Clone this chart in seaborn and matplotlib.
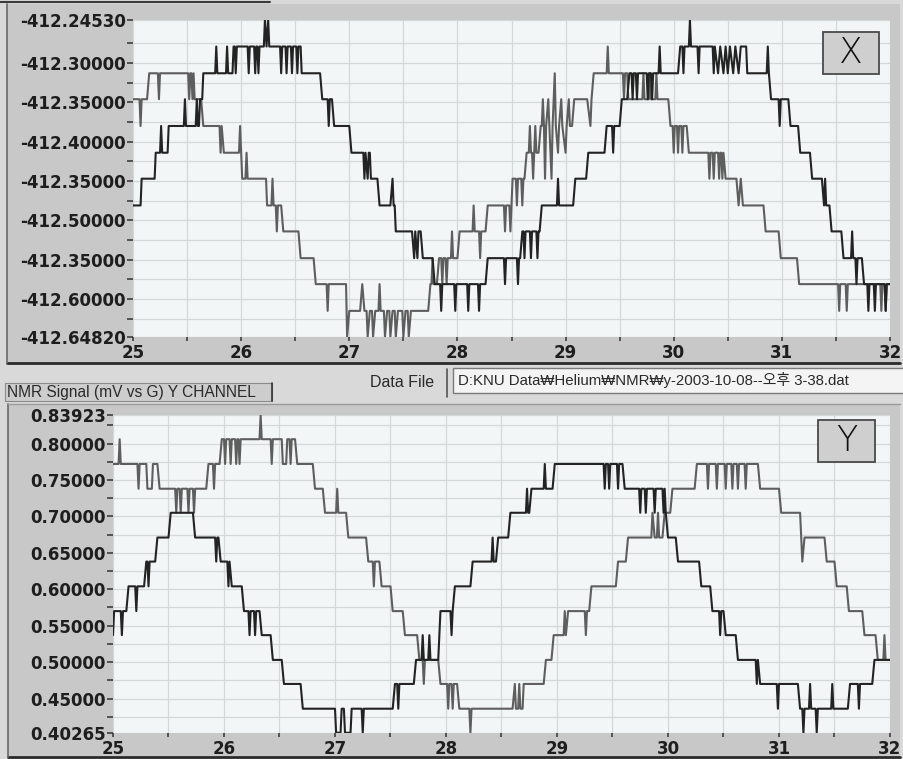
import numpy as np
import pandas as pd
import matplotlib
matplotlib.use("Agg")
import matplotlib.pyplot as plt
import seaborn as sns
from matplotlib.patches import Rectangle
from matplotlib.lines import Line2D
from matplotlib.ticker import FixedLocator

# ---------------- data ----------------
x_ticks = [25, 26, 27, 28, 29, 30, 31, 32]

top_yticks = [-412.2453, -412.30, -412.35, -412.40, -412.45, -412.50, -412.55, -412.60, -412.6482]
top_yticklabels = ['-412.24530', '-412.30000', '-412.35000', '-412.40000', '-412.35000',
                   '-412.50000', '-412.35000', '-412.60000', '-412.64820']
bot_yticks = [0.83923, 0.80, 0.75, 0.70, 0.65, 0.60, 0.55, 0.50, 0.45, 0.40265]
bot_yticklabels = ['0.83923', '0.80000', '0.75000', '0.70000', '0.65000', '0.60000',
                   '0.55000', '0.50000', '0.45000', '0.40265']

top_dark = [
 (25.00,-412.481),(25.07,-412.481),(25.08,-412.447),(25.20,-412.447),(25.21,-412.414),(25.25,-412.414),
 (25.26,-412.380),(25.27,-412.414),(25.32,-412.414),(25.33,-412.380),(25.47,-412.380),(25.48,-412.346),
 (25.49,-412.380),(25.58,-412.380),(25.59,-412.346),(25.60,-412.380),(25.61,-412.380),(25.62,-412.346),
 (25.64,-412.346),(25.65,-412.313),(25.76,-412.313),(25.77,-412.279),(25.78,-412.313),(25.86,-412.313),
 (25.87,-412.279),(25.88,-412.313),(25.92,-412.313),(25.93,-412.279),(25.94,-412.279),(25.95,-412.313),
 (25.96,-412.279),(26.06,-412.279),(26.07,-412.313),(26.08,-412.279),(26.12,-412.279),(26.13,-412.313),
 (26.14,-412.279),(26.15,-412.279),(26.16,-412.313),(26.17,-412.279),(26.21,-412.279),(26.22,-412.245),
 (26.235,-412.279),(26.25,-412.245),(26.26,-412.279),(26.36,-412.279),(26.37,-412.313),(26.38,-412.279),
 (26.41,-412.279),(26.42,-412.313),(26.43,-412.279),(26.46,-412.279),(26.47,-412.313),(26.48,-412.279),
 (26.51,-412.279),(26.52,-412.313),(26.53,-412.279),(26.55,-412.279),(26.56,-412.313),(26.73,-412.313),
 (26.75,-412.346),(26.80,-412.346),(26.81,-412.380),(26.82,-412.346),(26.84,-412.346),(26.86,-412.380),
 (27.00,-412.380),(27.02,-412.414),(27.13,-412.414),(27.14,-412.447),(27.15,-412.414),(27.17,-412.447),
 (27.18,-412.414),(27.19,-412.414),(27.20,-412.447),(27.26,-412.447),(27.28,-412.481),(27.38,-412.481),
 (27.40,-412.447),(27.41,-412.481),(27.42,-412.481),(27.43,-412.514),(27.58,-412.514),(27.60,-412.548),
 (27.61,-412.514),(27.63,-412.548),(27.64,-412.514),(27.66,-412.514),(27.68,-412.548),(27.77,-412.548),
 (27.79,-412.581),(27.84,-412.581),(27.85,-412.615),(27.86,-412.581),(27.97,-412.581),(27.98,-412.615),
 (27.99,-412.581),(28.09,-412.581),(28.10,-412.615),(28.11,-412.581),(28.19,-412.581),(28.20,-412.615),
 (28.21,-412.581),(28.26,-412.581),(28.28,-412.548),(28.43,-412.548),(28.44,-412.581),(28.45,-412.548),
 (28.55,-412.548),(28.56,-412.581),(28.57,-412.548),(28.58,-412.548),(28.60,-412.514),(28.61,-412.514),
 (28.62,-412.548),(28.63,-412.514),(28.67,-412.514),(28.68,-412.548),(28.69,-412.514),(28.73,-412.514),
 (28.74,-412.548),(28.75,-412.514),(28.76,-412.514),(28.78,-412.481),(28.92,-412.481),(28.93,-412.447),
 (28.94,-412.481),(29.07,-412.481),(29.09,-412.447),(29.19,-412.447),(29.21,-412.414),(29.36,-412.414),
 (29.38,-412.380),(29.43,-412.380),(29.44,-412.414),(29.45,-412.380),(29.50,-412.380),(29.52,-412.346),
 (29.57,-412.346),(29.59,-412.313),(29.61,-412.313),(29.62,-412.346),(29.63,-412.313),(29.65,-412.313),
 (29.66,-412.346),(29.67,-412.313),(29.75,-412.313),(29.76,-412.346),(29.77,-412.313),(29.79,-412.313),
 (29.80,-412.346),(29.81,-412.313),(29.86,-412.313),(29.87,-412.279),(29.88,-412.313),(30.04,-412.313),
 (30.06,-412.279),(30.08,-412.279),(30.09,-412.313),(30.10,-412.279),(30.14,-412.279),(30.15,-412.245),
 (30.16,-412.279),(30.22,-412.279),(30.23,-412.313),(30.24,-412.279),(30.36,-412.279),(30.37,-412.313),
 (30.38,-412.279),(30.41,-412.313),(30.43,-412.279),(30.46,-412.313),(30.48,-412.279),(30.50,-412.313),
 (30.52,-412.279),(30.55,-412.313),(30.57,-412.279),(30.60,-412.313),(30.62,-412.279),(30.67,-412.279),
 (30.68,-412.313),(30.86,-412.313),(30.87,-412.279),(30.88,-412.313),(30.90,-412.346),(30.97,-412.346),
 (30.98,-412.380),(30.99,-412.346),(31.06,-412.346),(31.08,-412.380),(31.15,-412.380),(31.17,-412.414),
 (31.26,-412.414),(31.28,-412.447),(31.37,-412.447),(31.39,-412.481),(31.40,-412.447),(31.41,-412.481),
 (31.44,-412.481),(31.46,-412.514),(31.55,-412.514),(31.57,-412.548),(31.64,-412.548),(31.65,-412.514),
 (31.66,-412.548),(31.68,-412.548),(31.69,-412.581),(31.70,-412.548),(31.74,-412.548),(31.76,-412.581),
 (31.79,-412.581),(31.80,-412.615),(31.81,-412.581),(31.85,-412.581),(31.86,-412.615),(31.87,-412.581),
 (31.95,-412.581),(31.96,-412.615),(31.97,-412.581),(32.00,-412.581)]

top_gray = [
 (25.00,-412.346),(25.06,-412.346),(25.07,-412.380),(25.08,-412.346),(25.13,-412.346),(25.15,-412.313),
 (25.23,-412.313),(25.24,-412.346),(25.25,-412.313),(25.51,-412.313),(25.52,-412.346),(25.53,-412.313),
 (25.54,-412.313),(25.55,-412.346),(25.56,-412.313),(25.57,-412.346),(25.63,-412.346),(25.65,-412.380),
 (25.80,-412.380),(25.81,-412.414),(25.82,-412.380),(25.84,-412.414),(25.98,-412.414),(25.99,-412.380),
 (26.00,-412.414),(26.01,-412.447),(26.04,-412.447),(26.05,-412.414),(26.06,-412.447),(26.23,-412.447),
 (26.24,-412.481),(26.28,-412.481),(26.29,-412.447),(26.30,-412.481),(26.32,-412.481),(26.33,-412.514),
 (26.34,-412.481),(26.37,-412.481),(26.39,-412.514),(26.53,-412.514),(26.55,-412.548),(26.67,-412.548),
 (26.69,-412.581),(26.79,-412.581),(26.80,-412.615),(26.81,-412.581),(26.97,-412.581),(26.98,-412.648),
 (27.00,-412.615),(27.10,-412.615),(27.12,-412.581),(27.14,-412.615),(27.16,-412.615),(27.17,-412.648),
 (27.19,-412.615),(27.21,-412.615),(27.22,-412.648),(27.24,-412.615),(27.27,-412.615),(27.28,-412.581),
 (27.29,-412.615),(27.32,-412.615),(27.33,-412.648),(27.35,-412.615),(27.37,-412.615),(27.38,-412.648),
 (27.40,-412.615),(27.42,-412.615),(27.43,-412.648),(27.45,-412.615),(27.49,-412.615),(27.50,-412.648),
 (27.52,-412.615),(27.54,-412.615),(27.55,-412.648),(27.57,-412.615),(27.73,-412.615),(27.75,-412.581),
 (27.76,-412.581),(27.77,-412.548),(27.78,-412.581),(27.81,-412.581),(27.83,-412.548),(27.85,-412.548),
 (27.86,-412.581),(27.87,-412.548),(27.89,-412.548),(27.90,-412.581),(27.91,-412.548),(27.94,-412.548),
 (27.95,-412.514),(27.96,-412.548),(28.00,-412.548),(28.02,-412.514),(28.14,-412.514),(28.15,-412.481),
 (28.16,-412.514),(28.20,-412.514),(28.21,-412.548),(28.22,-412.514),(28.26,-412.514),(28.28,-412.481),
 (28.43,-412.481),(28.44,-412.514),(28.45,-412.481),(28.48,-412.481),(28.49,-412.514),(28.50,-412.481),
 (28.51,-412.447),(28.54,-412.447),(28.55,-412.481),(28.56,-412.447),(28.59,-412.447),(28.60,-412.481),
 (28.61,-412.447),(28.62,-412.447),(28.64,-412.414),(28.66,-412.414),(28.67,-412.380),(28.68,-412.414),
 (28.69,-412.414),(28.70,-412.447),(28.71,-412.414),(28.72,-412.380),(28.73,-412.414),(28.75,-412.414),
 (28.77,-412.380),(28.78,-412.380),(28.79,-412.346),(28.80,-412.380),(28.81,-412.447),(28.82,-412.380),
 (28.84,-412.346),(28.85,-412.380),(28.87,-412.447),(28.88,-412.380),(28.90,-412.313),(28.91,-412.380),
 (28.93,-412.414),(28.94,-412.380),(28.96,-412.346),(28.97,-412.380),(29.00,-412.414),(29.01,-412.380),
 (29.03,-412.346),(29.04,-412.380),(29.06,-412.380),(29.08,-412.346),(29.20,-412.346),(29.23,-412.380),
 (29.24,-412.346),(29.26,-412.313),(29.38,-412.313),(29.39,-412.279),(29.40,-412.313),(29.53,-412.313),
 (29.54,-412.346),(29.55,-412.313),(29.57,-412.313),(29.58,-412.346),(29.60,-412.346),(29.71,-412.346),
 (29.72,-412.313),(29.73,-412.346),(29.77,-412.346),(29.78,-412.313),(29.79,-412.346),(29.83,-412.346),
 (29.84,-412.313),(29.85,-412.346),(29.95,-412.346),(29.97,-412.380),(29.99,-412.380),(30.00,-412.414),
 (30.01,-412.380),(30.03,-412.380),(30.04,-412.414),(30.05,-412.380),(30.07,-412.380),(30.08,-412.414),
 (30.09,-412.380),(30.12,-412.380),(30.14,-412.414),(30.32,-412.414),(30.33,-412.447),(30.34,-412.414),
 (30.36,-412.414),(30.37,-412.447),(30.38,-412.414),(30.41,-412.414),(30.42,-412.447),(30.43,-412.414),
 (30.44,-412.414),(30.45,-412.447),(30.46,-412.414),(30.48,-412.447),(30.58,-412.447),(30.60,-412.481),
 (30.62,-412.447),(30.64,-412.481),(30.83,-412.481),(30.85,-412.514),(30.97,-412.514),(30.99,-412.548),
 (31.14,-412.548),(31.16,-412.581),(31.52,-412.581),(31.53,-412.615),(31.54,-412.581),(31.59,-412.581),
 (31.60,-412.615),(31.61,-412.581),(31.91,-412.581),(31.92,-412.615),(31.93,-412.581),(31.95,-412.581),
 (31.96,-412.615),(31.97,-412.581),(32.00,-412.581)]

bot_dark = [
 (25.00,0.537),(25.01,0.570),(25.07,0.570),(25.08,0.537),(25.09,0.570),(25.12,0.570),(25.14,0.604),
 (25.20,0.604),(25.21,0.570),(25.22,0.604),(25.28,0.604),(25.30,0.638),(25.31,0.638),(25.32,0.604),
 (25.33,0.638),(25.38,0.638),(25.40,0.671),(25.50,0.671),(25.52,0.705),(25.72,0.705),(25.74,0.671),
 (25.92,0.671),(25.93,0.638),(25.94,0.671),(25.95,0.671),(25.97,0.638),(26.03,0.638),(26.04,0.604),
 (26.05,0.638),(26.07,0.604),(26.16,0.604),(26.18,0.570),(26.22,0.570),(26.23,0.537),(26.24,0.570),
 (26.27,0.570),(26.28,0.537),(26.29,0.570),(26.32,0.570),(26.34,0.537),(26.42,0.537),(26.44,0.503),
 (26.52,0.503),(26.54,0.470),(26.69,0.470),(26.71,0.436),(27.00,0.436),(27.01,0.403),(27.05,0.403),
 (27.06,0.436),(27.08,0.436),(27.09,0.403),(27.14,0.403),(27.15,0.436),(27.24,0.436),(27.25,0.403),
 (27.26,0.436),(27.52,0.436),(27.54,0.470),(27.56,0.470),(27.57,0.436),(27.58,0.470),(27.71,0.470),
 (27.73,0.503),(27.78,0.503),(27.79,0.537),(27.80,0.503),(27.84,0.503),(27.85,0.537),(27.86,0.503),
 (27.93,0.503),(27.95,0.570),(28.04,0.570),(28.05,0.537),(28.06,0.570),(28.08,0.604),(28.22,0.604),
 (28.24,0.638),(28.41,0.638),(28.42,0.671),(28.43,0.638),(28.45,0.638),(28.47,0.671),(28.56,0.671),
 (28.58,0.705),(28.72,0.705),(28.73,0.738),(28.74,0.705),(28.75,0.705),(28.77,0.738),(28.88,0.738),
 (28.89,0.772),(28.90,0.738),(28.96,0.738),(28.98,0.772),(29.42,0.772),(29.43,0.738),(29.44,0.772),
 (29.46,0.772),(29.47,0.738),(29.48,0.772),(29.54,0.772),(29.55,0.738),(29.56,0.772),(29.59,0.772),
 (29.61,0.738),(29.74,0.738),(29.75,0.705),(29.76,0.738),(29.79,0.738),(29.80,0.705),(29.81,0.738),
 (29.87,0.738),(29.88,0.705),(29.89,0.738),(29.95,0.738),(29.96,0.705),(29.97,0.738),(29.98,0.705),
 (30.00,0.671),(30.07,0.671),(30.09,0.638),(30.28,0.638),(30.30,0.604),(30.38,0.604),(30.40,0.570),
 (30.46,0.570),(30.47,0.537),(30.48,0.570),(30.50,0.570),(30.52,0.537),(30.61,0.537),(30.63,0.503),
 (30.79,0.503),(30.80,0.470),(30.81,0.503),(30.83,0.470),(30.98,0.470),(30.99,0.436),(31.00,0.470),
 (31.17,0.470),(31.19,0.436),(31.21,0.436),(31.22,0.403),(31.23,0.436),(31.27,0.436),(31.28,0.470),
 (31.29,0.436),(31.33,0.436),(31.34,0.403),(31.35,0.436),(31.47,0.436),(31.48,0.470),(31.49,0.436),
 (31.62,0.436),(31.64,0.470),(31.71,0.470),(31.72,0.436),(31.73,0.470),(31.84,0.470),(31.86,0.503),
 (32.00,0.503)]

bot_gray = [
 (25.00,0.772),(25.05,0.772),(25.06,0.806),(25.07,0.772),(25.22,0.772),(25.23,0.738),(25.24,0.772),
 (25.30,0.772),(25.31,0.738),(25.35,0.738),(25.36,0.772),(25.40,0.772),(25.42,0.738),(25.56,0.738),
 (25.57,0.705),(25.58,0.738),(25.60,0.738),(25.61,0.705),(25.62,0.738),(25.67,0.738),(25.68,0.705),
 (25.69,0.738),(25.72,0.738),(25.73,0.705),(25.74,0.738),(25.84,0.738),(25.86,0.772),(25.90,0.772),
 (25.91,0.738),(25.92,0.772),(25.96,0.772),(25.98,0.806),(26.00,0.806),(26.01,0.772),(26.02,0.806),
 (26.05,0.806),(26.06,0.772),(26.07,0.806),(26.10,0.806),(26.11,0.772),(26.12,0.806),(26.13,0.806),
 (26.14,0.772),(26.15,0.806),(26.32,0.806),(26.33,0.839),(26.34,0.806),(26.42,0.806),(26.43,0.772),
 (26.44,0.806),(26.52,0.806),(26.53,0.772),(26.56,0.772),(26.57,0.806),(26.59,0.806),(26.60,0.772),
 (26.61,0.806),(26.64,0.806),(26.66,0.772),(26.80,0.772),(26.82,0.738),(26.89,0.738),(26.91,0.705),
 (27.01,0.705),(27.02,0.738),(27.03,0.705),(27.10,0.705),(27.12,0.671),(27.28,0.671),(27.30,0.638),
 (27.34,0.638),(27.35,0.604),(27.36,0.638),(27.40,0.638),(27.42,0.604),(27.50,0.604),(27.52,0.570),
 (27.61,0.570),(27.63,0.537),(27.74,0.537),(27.76,0.503),(27.79,0.503),(27.80,0.470),(27.81,0.503),
 (27.93,0.503),(27.95,0.470),(28.01,0.470),(28.02,0.436),(28.03,0.470),(28.05,0.470),(28.06,0.436),
 (28.07,0.470),(28.10,0.470),(28.12,0.436),(28.21,0.436),(28.22,0.403),(28.23,0.436),(28.60,0.436),
 (28.62,0.470),(28.63,0.436),(28.65,0.436),(28.66,0.470),(28.67,0.436),(28.69,0.436),(28.70,0.470),
 (28.72,0.470),(28.88,0.470),(28.90,0.503),(28.95,0.503),(28.97,0.537),(29.06,0.537),(29.07,0.570),
 (29.08,0.537),(29.10,0.570),(29.25,0.570),(29.26,0.537),(29.27,0.570),(29.29,0.570),(29.31,0.604),
 (29.53,0.604),(29.55,0.638),(29.62,0.638),(29.64,0.671),(29.85,0.671),(29.86,0.705),(29.88,0.671),
 (29.90,0.671),(29.91,0.705),(29.92,0.671),(29.95,0.671),(29.97,0.705),(30.02,0.705),(30.04,0.738),
 (30.24,0.738),(30.26,0.772),(30.35,0.772),(30.36,0.738),(30.37,0.772),(30.43,0.772),(30.44,0.738),
 (30.45,0.772),(30.51,0.772),(30.52,0.738),(30.53,0.772),(30.57,0.772),(30.58,0.738),(30.59,0.772),
 (30.62,0.772),(30.63,0.738),(30.64,0.772),(30.69,0.772),(30.70,0.738),(30.71,0.772),(30.81,0.772),
 (30.83,0.738),(31.00,0.738),(31.02,0.705),(31.19,0.705),(31.21,0.638),(31.23,0.671),(31.41,0.671),
 (31.43,0.638),(31.50,0.638),(31.52,0.604),(31.61,0.604),(31.63,0.570),(31.75,0.570),(31.77,0.537),
 (31.87,0.537),(31.89,0.503),(31.94,0.503),(31.95,0.537),(31.96,0.503),(32.00,0.503)]

# ---------------- styling ----------------
sns.set_theme(style="white")
plt.rcParams['font.family'] = ['Liberation Sans', 'DejaVu Sans', 'Noto Sans CJK KR']

W, H = 904, 759
fig = plt.figure(figsize=(W / 100, H / 100), dpi=100)
fig.patch.set_facecolor('#d9d9d9')

def fx(px):
    return px / W

def fy(py):
    return 1 - py / H

# panel backgrounds
fig.add_artist(Rectangle((fx(7), fy(363)), fx(900) - fx(7), fy(4) - fy(363),
                         transform=fig.transFigure, facecolor='#c8c8c8', edgecolor='none', zorder=0))
fig.add_artist(Rectangle((fx(8), fy(757)), fx(900) - fx(8), fy(404) - fy(757),
                         transform=fig.transFigure, facecolor='#c8c8c8', edgecolor='none', zorder=0))
for (x0, y0, x1, y1, c, lw) in [
        (7, 363, 900, 363, '#2b2b2b', 2.0),
        (7, 4, 7, 363, '#6a6a6a', 1.2),
        (0, 2, 270, 2, '#3a3a3a', 1.5),
        (8, 757, 900, 757, '#2b2b2b', 2.0),
        (8, 404, 8, 757, '#6a6a6a', 1.2),
        (8, 404, 900, 404, '#9a9a9a', 1.0)]:
    fig.add_artist(Line2D([fx(x0), fx(x1)], [fy(y0), fy(y1)], transform=fig.transFigure,
                          color=c, lw=lw, zorder=1))

# middle band widgets
fig.add_artist(Rectangle((fx(5), fy(401)), fx(272) - fx(5), fy(383) - fy(401),
                         transform=fig.transFigure, facecolor='#cdcdcd', edgecolor='#8a8a8a',
                         lw=0.8, zorder=1))
fig.add_artist(Line2D([fx(272), fx(272)], [fy(383), fy(401)], transform=fig.transFigure,
                      color='#333333', lw=1.2, zorder=2))
fig.text(fx(7), fy(392), 'NMR Signal (mV vs G) Y CHANNEL', fontsize=11.2, color='#2a2a2a',
         va='center', ha='left')
fig.text(fx(434), fy(382), 'Data File', fontsize=11.5, color='#2a2a2a', va='center', ha='right')
fig.add_artist(Line2D([fx(447), fx(447)], [fy(369), fy(397)], transform=fig.transFigure,
                      color='#555555', lw=1.2, zorder=2))
fig.add_artist(Rectangle((fx(453), fy(393)), fx(904) - fx(453), fy(368) - fy(393),
                         transform=fig.transFigure, facecolor='#f4f4f4', edgecolor='#7a7a7a',
                         lw=1.0, zorder=1))
fig.text(fx(458), fy(380), 'D:KNU Data\u20a9Helium\u20a9NMR\u20a9y-2003-10-08--오후 3-38.dat',
         fontsize=10.8, color='#2a2a2a', va='center', ha='left')

line_dark = '#232323'
line_gray = '#5e5e5e'

def style_axes(ax, yticks, ylabels, ylim, minor_y):
    ax.set_facecolor('#f3f6f6')
    ax.set_xlim(25, 32)
    ax.set_ylim(*ylim)
    ax.xaxis.set_major_locator(FixedLocator(x_ticks))
    ax.set_xticklabels([str(t) for t in x_ticks])
    ax.xaxis.set_minor_locator(FixedLocator([25.5, 26.5, 27.5, 28.5, 29.5, 30.5, 31.5]))
    ax.yaxis.set_major_locator(FixedLocator(yticks))
    ax.set_yticklabels(ylabels)
    ax.yaxis.set_minor_locator(FixedLocator(minor_y))
    ax.grid(which='both', axis='both', color='#d3d8d8', lw=0.9)
    ax.tick_params(axis='both', which='both', direction='out', color='#333333', width=1.1)
    ax.tick_params(axis='y', which='both', length=4, pad=1, left=True)
    ax.tick_params(axis='x', which='both', length=3, pad=2, bottom=True)
    ax.tick_params(axis='both', which='major', labelsize=12, labelcolor='#1e1e1e')
    for lab in ax.get_xticklabels() + ax.get_yticklabels():
        lab.set_fontweight('bold')
        lab.set_family('DejaVu Sans')
    for s in ax.spines.values():
        s.set_visible(False)
    ax.set_xlabel('')
    ax.set_ylabel('')

def draw(ax, pts, color):
    df = pd.DataFrame(pts, columns=['field', 'signal'])
    sns.lineplot(data=df, x='field', y='signal', ax=ax, sort=False, estimator=None,
                 color=color, lw=1.5, clip_on=True)

# top panel (X channel)
ax1 = fig.add_axes([fx(133), fy(337), fx(890) - fx(133), fy(20) - fy(337)])
draw(ax1, top_gray, line_gray)
draw(ax1, top_dark, line_dark)
style_axes(ax1, top_yticks, top_yticklabels, (-412.6482, -412.2453),
           [-412.275, -412.325, -412.375, -412.425, -412.475, -412.525, -412.575, -412.625])

# bottom panel (Y channel)
ax2 = fig.add_axes([fx(113), fy(733), fx(890) - fx(113), fy(415) - fy(733)])
draw(ax2, bot_gray, line_gray)
draw(ax2, bot_dark, line_dark)
style_axes(ax2, bot_yticks, bot_yticklabels, (0.40265, 0.83923),
           [0.825, 0.775, 0.725, 0.675, 0.625, 0.575, 0.525, 0.475, 0.425])

# channel boxes
for (x0, y0, x1, y1, label) in [(823, 32, 879, 74, 'X'), (818, 420, 875, 462, 'Y')]:
    fig.add_artist(Rectangle((fx(x0), fy(y1)), fx(x1) - fx(x0), fy(y0) - fy(y1),
                             transform=fig.transFigure, facecolor='#cfcfcf',
                             edgecolor='#4a4a4a', lw=1.3, zorder=5))
    fig.text((fx(x0) + fx(x1)) / 2, (fy(y0) + fy(y1)) / 2, label, fontsize=25,
             family='DejaVu Sans', fontweight='light', color='#111111',
             ha='center', va='center', zorder=6)

fig.savefig('out.png', dpi=100, facecolor=fig.get_facecolor())
